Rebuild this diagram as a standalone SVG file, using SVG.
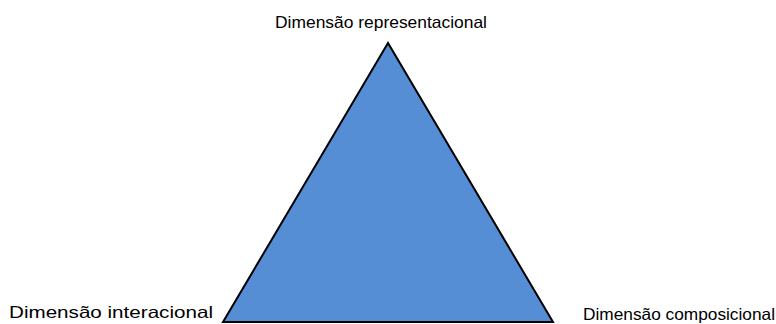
<svg xmlns="http://www.w3.org/2000/svg" width="776" height="324" viewBox="0 0 776 324">
<style>
.lbl{font-family:"Liberation Sans",Arial,sans-serif;font-size:16.5px;fill:#000}
</style>
<rect width="776" height="324" fill="#fff"/>
<g id="triangle">
<polygon points="388,43 223,322 553,322" fill="#558ED5" stroke="#000" stroke-width="2" stroke-linejoin="miter"/>
</g>
<g id="label-top"><text class="lbl" x="275" y="28" textLength="212" lengthAdjust="spacingAndGlyphs">Dimensão representacional</text></g>
<g id="label-left"><text class="lbl" x="9" y="318" textLength="204" lengthAdjust="spacingAndGlyphs">Dimensão interacional</text></g>
<g id="label-right"><text class="lbl" x="583" y="320" textLength="192" lengthAdjust="spacingAndGlyphs">Dimensão composicional</text></g>
<g id="connectors"/>
</svg>
